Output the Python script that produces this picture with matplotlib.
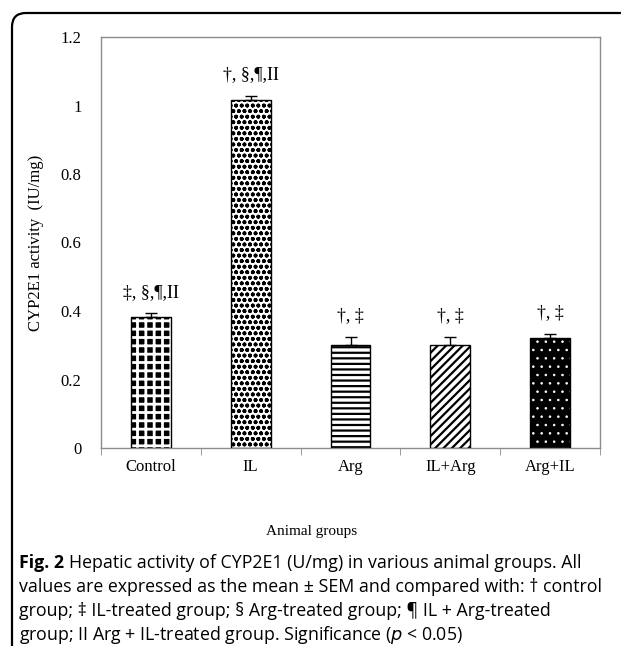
import matplotlib
matplotlib.use("Agg")
import matplotlib.pyplot as plt
from matplotlib.path import Path
from matplotlib.patches import PathPatch
import numpy as np

categories = ["Control", "IL", "Arg", "IL+Arg", "Arg+IL"]
values = [0.383, 1.016, 0.300, 0.300, 0.321]
errors = [0.010, 0.012, 0.024, 0.024, 0.012]
sig_labels = ["‡, §,¶,II", "†, §,¶,II", "†, ‡", "†, ‡", "†, ‡"]
yticks = [0, 0.2, 0.4, 0.6, 0.8, 1, 1.2]
ytick_labels = ["0", "0.2", "0.4", "0.6", "0.8", "1", "1.2"]

styles = [
    dict(face="black", hatch="++", hcolor="white", hlw=2.0),
    dict(face="white", hatch="ooo", hcolor="black", hlw=1.2),
    dict(face="white", hatch="---", hcolor="black", hlw=1.6),
    dict(face="white", hatch="////", hcolor="black", hlw=1.6),
    dict(face="black", hatch="..", hcolor="white", hlw=0.6),
]

serif = ["Liberation Serif", "DejaVu Serif"]

W, H = 621, 646
fig = plt.figure(figsize=(W / 100, H / 100), dpi=100)
ax = fig.add_axes([101 / W, 1 - 448 / H, 499 / W, 411 / H])

x = np.arange(len(categories))
for i in range(len(categories)):
    st = styles[i]
    with plt.rc_context({"hatch.linewidth": st["hlw"]}):
        bars = ax.bar(x[i], values[i], width=0.4, color=st["face"], hatch=st["hatch"],
                      edgecolor=st["hcolor"], linewidth=0, zorder=2)
        for b in bars:
            try:
                b.set_hatch_linewidth(st["hlw"])
            except Exception:
                pass
    ax.bar(x[i], values[i], width=0.4, fill=False, edgecolor="black",
           linewidth=1.0, zorder=3)

ax.errorbar(x, values, yerr=[np.zeros(len(values)), errors], fmt="none",
            ecolor="black", elinewidth=1.0, capsize=4, capthick=1.0, zorder=4)

for i in range(len(categories)):
    ax.annotate(sig_labels[i], xy=(x[i], values[i] + errors[i]),
                xytext=(0, 9), textcoords="offset points",
                ha="center", va="bottom", fontsize=13, family=serif)

ax.set_xlim(-0.5, len(categories) - 0.5)
ax.set_ylim(0, 1.2)
ax.set_yticks(yticks)
ax.set_yticklabels(ytick_labels, family=serif, fontsize=12)
ax.tick_params(axis="y", length=0, pad=14)
ax.set_xticks(x)
ax.set_xticklabels(categories, family=serif, fontsize=12)
ax.tick_params(axis="x", which="major", length=0, pad=8)
ax.set_xticks(np.arange(-0.5, len(categories), 1.0), minor=True)
ax.tick_params(axis="x", which="minor", length=5, color="#8c8c8c", direction="out")
for s in ax.spines.values():
    s.set_color("#8c8c8c")
    s.set_linewidth(1.0)

ax.set_ylabel("CYP2E1 activity  (IU/mg)", family=serif, fontsize=12, labelpad=12)

fig.text(312 / W, 1 - 531 / H, "Animal groups", family=serif, fontsize=11,
         ha="center", va="center")

# page frame with rounded corner
r = 14
verts = [(12, H), (12, 13 + r), (12, 13), (12 + r, 13), (W, 13)]
codes = [Path.MOVETO, Path.LINETO, Path.CURVE3, Path.CURVE3, Path.LINETO]
verts = [(vx / W, 1 - vy / H) for vx, vy in verts]
frame = PathPatch(Path(verts, codes), transform=fig.transFigure, fill=False,
                  edgecolor="black", linewidth=1.6)
fig.patches.append(frame)

cap_font = ["Open Sans", "DejaVu Sans"]
cap_size = 12.8
cap_lines = [
    "Hepatic activity of CYP2E1 (U/mg) in various animal groups. All",
    "values are expressed as the mean ± SEM and compared with: † control",
    "group; ‡ IL-treated group; § Arg-treated group; ¶ IL + Arg-treated",
    "group; II Arg + IL-treated group. Significance ($\\it{p}$ < 0.05)",
]
cap_y = [563, 587, 611, 635]
t = fig.text(19 / W, 1 - cap_y[0] / H, "Fig. 2", family=cap_font, fontsize=cap_size,
             fontweight="bold", va="center", ha="left")
fig.canvas.draw()
bb = t.get_window_extent()
fig.text((bb.x1 + 5) / W, 1 - cap_y[0] / H, cap_lines[0], family=cap_font,
         fontsize=cap_size, va="center", ha="left")
for ln, yy in zip(cap_lines[1:], cap_y[1:]):
    fig.text(19 / W, 1 - yy / H, ln, family=cap_font, fontsize=cap_size,
             va="center", ha="left")

fig.savefig("out.png", dpi=100)
